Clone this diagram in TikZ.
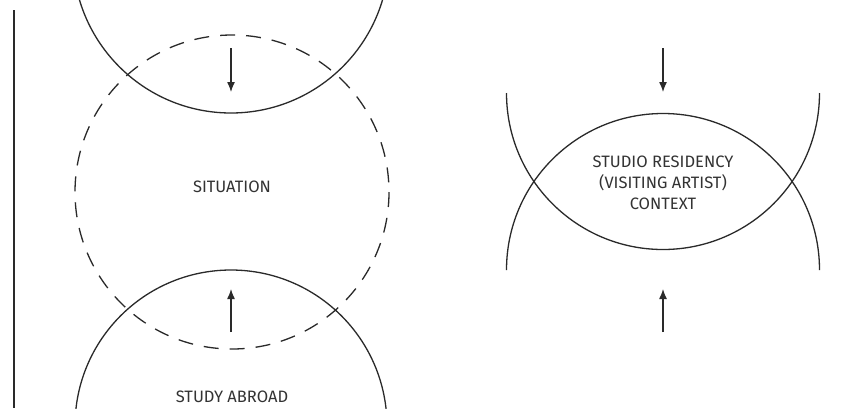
\documentclass[tikz,border=0pt]{standalone}
\usepackage{fontspec}
\setmainfont{Fira Sans}
\usetikzlibrary{arrows.meta}
\definecolor{ink}{HTML}{2A2A2A}
\definecolor{txt}{HTML}{333333}
\tikzset{
  ring/.style={draw=ink, line width=1.3pt},
  dashring/.style={draw=ink, line width=1.3pt, dash pattern=on 15pt off 11pt},
  flow/.style={draw=ink, line width=1.3pt, -{Latex[length=10pt,width=8pt]}},
  lbl/.style={font=\fontsize{16.5}{21}\selectfont, text=txt, align=center, inner sep=0pt}
}
\begin{document}
\begin{tikzpicture}[x=1pt,y=-1pt]
\useasboundingbox (0,0) rectangle (861,408);
\fill[white] (0,0) rectangle (861,408);
\clip (0,0) rectangle (861,408);
% left rule
\draw[draw=ink, line width=1.8pt] (14,10) -- (14,408);
% left column circles
\draw[ring] (231,-45) circle[radius=158];
\draw[dashring] (232,192) circle[radius=157];
\draw[ring] (231,426) circle[radius=156];
\node[lbl] (sit) at (232,187) {SITUATION};
\node[lbl] (study) at (232,397) {STUDY ABROAD};
\coordinate (a1s) at (231,48);
\coordinate (a1e) at (231,92);
\coordinate (a2s) at (231,332);
\coordinate (a2e) at (231,289);
\draw[flow] (a1s) -- (a1e);
\draw[flow] (a2s) -- (a2e);
% right column half circles
\draw[ring] (506.5,270) arc[start angle=180, end angle=360, radius=156.5];
\draw[ring] (506.5,93) arc[start angle=180, end angle=0, radius=156.5];
\node[lbl] (ctx) at (663,183) {STUDIO RESIDENCY\\(VISITING ARTIST)\\CONTEXT};
\coordinate (b1s) at (663,48);
\coordinate (b1e) at (663,92);
\coordinate (b2s) at (663,332);
\coordinate (b2e) at (663,289);
\draw[flow] (b1s) -- (b1e);
\draw[flow] (b2s) -- (b2e);
\end{tikzpicture}
\end{document}
